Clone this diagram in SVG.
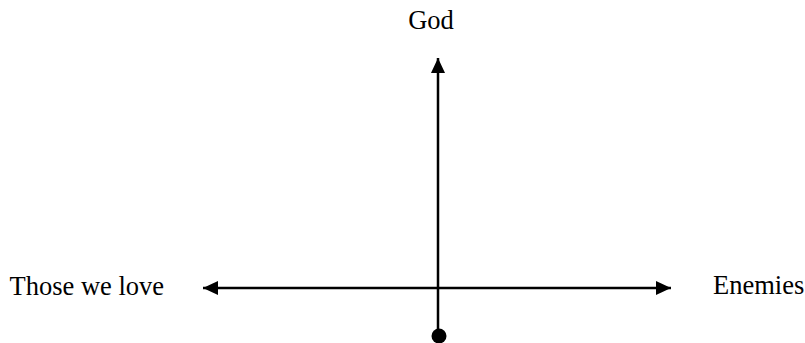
<svg xmlns="http://www.w3.org/2000/svg" width="805" height="343" viewBox="0 0 805 343">
<style>
.lbl{font-family:"Liberation Serif","Times New Roman",serif;font-size:26.5px;fill:#000}
.ln{stroke:#000;stroke-width:2.5;fill:none}
</style>
<defs>
<marker id="ah" viewBox="0 0 15 14" refX="15" refY="7" markerWidth="15" markerHeight="14" markerUnits="userSpaceOnUse" orient="auto">
<path d="M0,0 L15,7 L0,14 Z" fill="#000"/>
</marker>
</defs>
<rect width="805" height="343" fill="#fff"/>
<g id="connectors">
<line class="ln" x1="438" y1="335" x2="438" y2="58" marker-end="url(#ah)"/>
<line class="ln" x1="437" y1="288" x2="203" y2="288" marker-end="url(#ah)"/>
<line class="ln" x1="437" y1="288" x2="671" y2="288" marker-end="url(#ah)"/>
</g>
<g id="origin"><circle cx="439" cy="336" r="7.5" fill="#000"/></g>
<g id="god"><text class="lbl" x="431" y="28.5" text-anchor="middle">God</text></g>
<g id="love"><text class="lbl" x="9.5" y="295">Those we love</text></g>
<g id="enemies"><text class="lbl" x="713" y="294">Enemies</text></g>
</svg>
